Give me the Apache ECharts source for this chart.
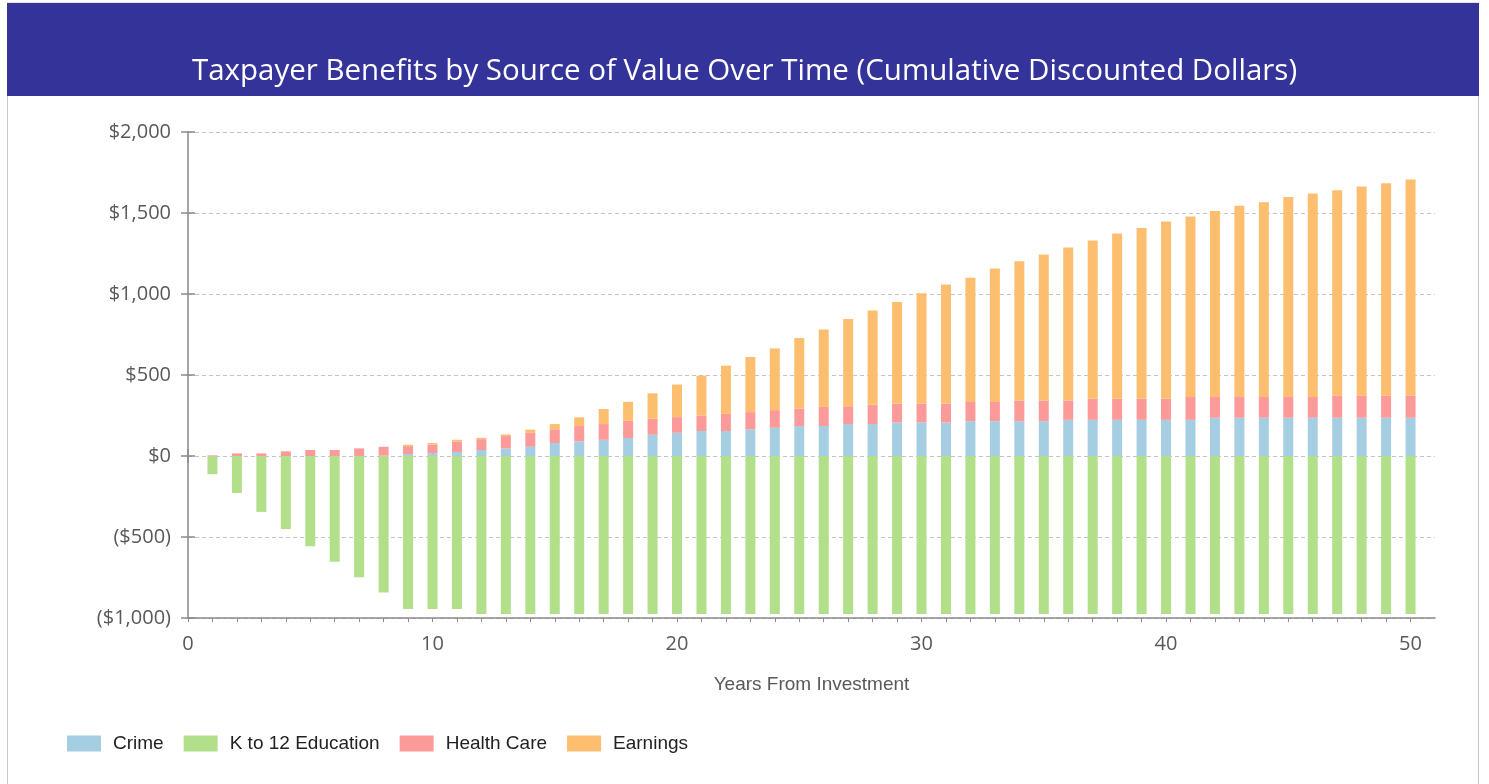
<!DOCTYPE html>
<html>
<head>
<meta charset="utf-8">
<script src="https://cdn.jsdelivr.net/npm/echarts@6/dist/echarts.min.js"></script>
<style>
html,body{margin:0;padding:0;background:#fff;}
#chart{width:1489px;height:784px;}
</style>
</head>
<body>
<div id="chart"></div>
<script>
const years = [1,2,3,4,5,6,7,8,9,10,11,12,13,14,15,16,17,18,19,20,21,22,23,24,25,26,27,28,29,30,31,32,33,34,35,36,37,38,39,40,41,42,43,44,45,46,47,48,49,50];
const crime = [0,0,0,0,0,0,0,2,12,16,25,37,47,57,80,90,100,111,131,143,154,154,164,174,185,185,197,197,207,207,207,215,215,215,215,223,223,223,223,223,223,236,236,236,236,236,236,236,236,236];
const k12Education = [-112,-228,-345,-451,-557,-653,-749,-843,-945,-945,-945,-975,-975,-975,-975,-975,-975,-975,-975,-975,-975,-975,-975,-975,-975,-975,-975,-975,-975,-975,-975,-975,-975,-975,-975,-975,-975,-975,-975,-975,-975,-975,-975,-975,-975,-975,-975,-975,-975,-975];
const healthCare = [4,16,16,29,37,37,47,55,49,54,65,67,76,86,85,95,97,106,99,97,96,106,107,109,108,118,106,119,117,117,117,119,119,128,128,120,130,130,130,130,141,128,128,128,128,128,138,138,138,138];
const earnings = [0,0,0,0,0,0,0,0,8,10,10,8,10,20,32,54,93,117,157,201,246,298,340,381,435,478,542,582,627,681,734,767,823,859,901,944,978,1021,1054,1095,1115,1148,1181,1202,1235,1256,1266,1289,1310,1333];
const xTickLabels = [0,10,20,30,40,50];
const yTickValues = [-1000,-500,0,500,1000,1500,2000];
const seriesNames = ['Crime','K to 12 Education','Health Care','Earnings'];
const seriesColors = ['#a6cee3','#b2df8a','#fb9a99','#fdbf6f'];

const chart = echarts.init(document.getElementById('chart'));
const axisGrey = '#8a8a8a';
const labelGrey = '#595959';
const narrow = '"Liberation Sans Narrow", "Arial Narrow", "Liberation Sans", Arial, sans-serif';
const sans = '"Open Sans", "Noto Sans", sans-serif';

function money(v){
  const s = Math.abs(v).toLocaleString('en-US');
  return v < 0 ? '($' + s + ')' : '$' + s;
}
// rows are [value, year] so the stacked dimension is the value one
function rows(vals){ return vals.map((v,i)=>[v, years[i]]); }

const seriesData = [crime, k12Education, healthCare, earnings];
const series = seriesNames.map((name, i) => ({
  name: name,
  type: 'bar',
  stack: 'total',
  barWidth: 10,
  xAxisIndex: 0,
  yAxisIndex: 0,
  encode: {x: 1, y: 0},
  itemStyle: {color: seriesColors[i]},
  emphasis: {disabled: true},
  data: rows(seriesData[i])
}));

const minorTicks = [0].concat(years);
const xMin = 0, xMax = 51;
const yMin = yTickValues[0], yMax = yTickValues[yTickValues.length-1];

chart.setOption({
  animation: false,
  backgroundColor: '#ffffff',
  title: {
    text: 'Taxpayer Benefits by Source of Value Over Time (Cumulative Discounted Dollars)',
    left: 'center',
    top: 52,
    textStyle: {color: '#ffffff', fontSize: 29.5, fontWeight: 'normal', fontFamily: sans}
  },
  graphic: [
    {type: 'rect', z: -10, shape: {x: 7.5, y: 3, width: 1471, height: 800}, style: {fill: '#ffffff', stroke: '#c8c8c8', lineWidth: 1}},
    {type: 'rect', z: -5, shape: {x: 7, y: 3, width: 1472, height: 93}, style: {fill: '#343399'}}
  ],
  legend: {
    data: seriesNames,
    left: 62,
    top: 729,
    icon: 'rect',
    itemWidth: 34,
    itemHeight: 16,
    itemGap: 20,
    textStyle: {fontFamily: narrow, fontSize: 19, color: '#222', padding: [0,0,0,7]}
  },
  grid: {left: 188, right: 54, top: 132, bottom: 166},
  xAxis: [
    {
      type: 'value', min: xMin, max: xMax, interval: 1,
      name: 'Years From Investment', nameLocation: 'middle', nameGap: 57,
      nameTextStyle: {fontFamily: narrow, fontSize: 19, color: labelGrey},
      axisLine: {show: true, onZero: false, lineStyle: {color: axisGrey, width: 1.5}},
      axisTick: {show: true, length: 4, lineStyle: {color: axisGrey}, customValues: minorTicks},
      axisLabel: {fontFamily: sans, fontSize: 20, color: labelGrey, margin: 16, customValues: xTickLabels},
      splitLine: {show: false}
    },
    {
      type: 'value', min: xMin, max: xMax, position: 'bottom',
      axisLine: {show: false},
      axisTick: {show: true, length: 7, lineStyle: {color: axisGrey, width: 1.5}, customValues: xTickLabels},
      axisLabel: {show: false}, splitLine: {show: false}
    },
    {
      type: 'value', min: xMin, max: xMax, position: 'bottom',
      axisLine: {show: false},
      axisTick: {show: true, inside: true, length: 7, lineStyle: {color: axisGrey, width: 1.5}, customValues: xTickLabels},
      axisLabel: {show: false}, splitLine: {show: false}
    }
  ],
  yAxis: [
    {
      type: 'value', min: yMin, max: yMax, interval: 500, position: 'left',
      axisLine: {show: true, onZero: false, lineStyle: {color: axisGrey, width: 1.5}},
      axisTick: {show: true, length: 7, lineStyle: {color: axisGrey, width: 1.5}},
      axisLabel: {fontFamily: sans, fontSize: 20, color: labelGrey, margin: 17, formatter: money},
      splitLine: {show: true, lineStyle: {color: '#c4c4c4', type: [4,3], width: 1}}
    },
    {
      type: 'value', min: yMin, max: yMax, interval: 500, position: 'left', offset: 0,
      axisLine: {show: false},
      axisTick: {show: true, inside: true, length: 7, lineStyle: {color: axisGrey, width: 1.5}},
      axisLabel: {show: false}, splitLine: {show: false}
    }
  ],
  series: series
});
</script>
</body>
</html>
